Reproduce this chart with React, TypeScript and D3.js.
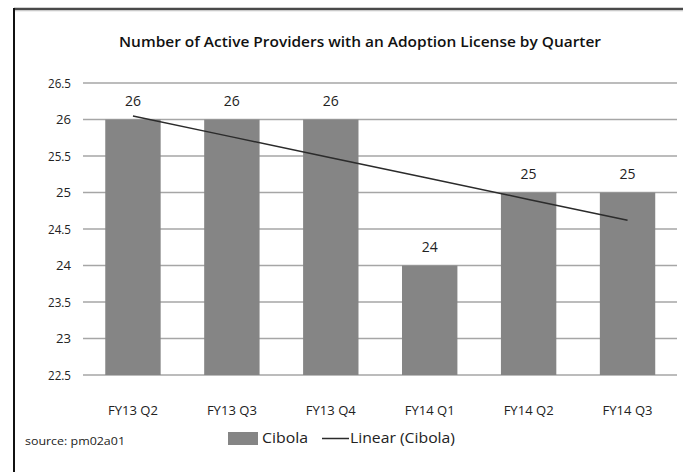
import React from "react";
import * as d3 from "d3";

const categories = ["FY13 Q2", "FY13 Q3", "FY13 Q4", "FY14 Q1", "FY14 Q2", "FY14 Q3"];
const values = [26, 26, 26, 24, 25, 25];
const yTicks = [22.5, 23, 23.5, 24, 24.5, 25, 25.5, 26, 26.5];
const title = "Number of Active Providers with an Adoption License by Quarter";
const seriesName = "Cibola";
const trendName = "Linear (Cibola)";
const sourceText = "source: pm02a01";

const W = 683;
const H = 472;
const FONT = "'Open Sans', 'DejaVu Sans', sans-serif";

export default function App() {
  const x = d3.scaleBand<string>().domain(categories).range([83.5, 677]).paddingInner(0.44).paddingOuter(0.22);
  const y = d3.scaleLinear().domain([22.5, 26.5]).range([375, 83]);

  // linear trend (least squares on index 1..n)
  const xs = values.map((_, i) => i + 1);
  const mx = d3.mean(xs)!;
  const my = d3.mean(values)!;
  const slope = d3.sum(xs.map((xi, i) => (xi - mx) * (values[i] - my))) / d3.sum(xs.map((xi) => (xi - mx) ** 2));
  const icpt = my - slope * mx;
  const trend = xs.map((xi, i) => ({ c: categories[i], v: icpt + slope * xi }));
  const line = d3
    .line<{ c: string; v: number }>()
    .x((d) => x(d.c)! + x.bandwidth() / 2)
    .y((d) => y(d.v));

  return (
    <svg width={W} height={H} style={{ position: "absolute", left: 0, top: 0 }} fontFamily={FONT}>
      <rect x={0} y={0} width={W} height={H} fill="#fff" />
      {/* frame */}
      <line x1={14} x2={W} y1={9} y2={9} stroke="#4a4a4a" strokeWidth={2.5} />
      <line x1={14} x2={W} y1={10.8} y2={10.8} stroke="#c8c8c8" strokeWidth={1} />
      <line x1={14} x2={14} y1={8} y2={H} stroke="#111" strokeWidth={2} />

      <text x={360} y={47} textAnchor="middle" fontSize={15} fontWeight={600} fill="#111" textLength={482} lengthAdjust="spacingAndGlyphs">
        {title}
      </text>

      {yTicks.map((t) => (
        <g key={t}>
          <line x1={83} x2={677} y1={y(t)} y2={y(t)} stroke="#a6a6a6" strokeWidth={1.5} />
          <text x={71} y={y(t)} dy="0.35em" textAnchor="end" fontSize={13.5} fill="#222" textLength={String(t).length > 2 ? 23 : 15} lengthAdjust="spacingAndGlyphs">
            {t}
          </text>
        </g>
      ))}

      {categories.map((c, i) => (
        <g key={c}>
          <rect x={x(c)} y={y(values[i])} width={x.bandwidth()} height={y(22.5) - y(values[i])} fill="#858585" />
          <text x={x(c)! + x.bandwidth() / 2} y={y(values[i]) - 14} textAnchor="middle" fontSize={14} fill="#222">
            {values[i]}
          </text>
          <text x={x(c)! + x.bandwidth() / 2} y={410} dy="0.35em" textAnchor="middle" fontSize={13} fill="#222" textLength={50} lengthAdjust="spacingAndGlyphs">
            {c}
          </text>
        </g>
      ))}

      <path d={line(trend)!} fill="none" stroke="#2b2b2b" strokeWidth={1.5} />

      <text x={25} y={441} dy="0.35em" fontSize={11.5} fill="#222" textLength={100} lengthAdjust="spacingAndGlyphs">
        {sourceText}
      </text>
      <rect x={228} y={432} width={30} height={13} fill="#858585" />
      <text x={262} y={438.5} dy="0.35em" fontSize={14} fill="#222" textLength={46} lengthAdjust="spacingAndGlyphs">
        {seriesName}
      </text>
      <line x1={322} x2={349} y1={438.5} y2={438.5} stroke="#2b2b2b" strokeWidth={1.5} />
      <text x={350} y={438.5} dy="0.35em" fontSize={14} fill="#222" textLength={105} lengthAdjust="spacingAndGlyphs">
        {trendName}
      </text>
    </svg>
  );
}
